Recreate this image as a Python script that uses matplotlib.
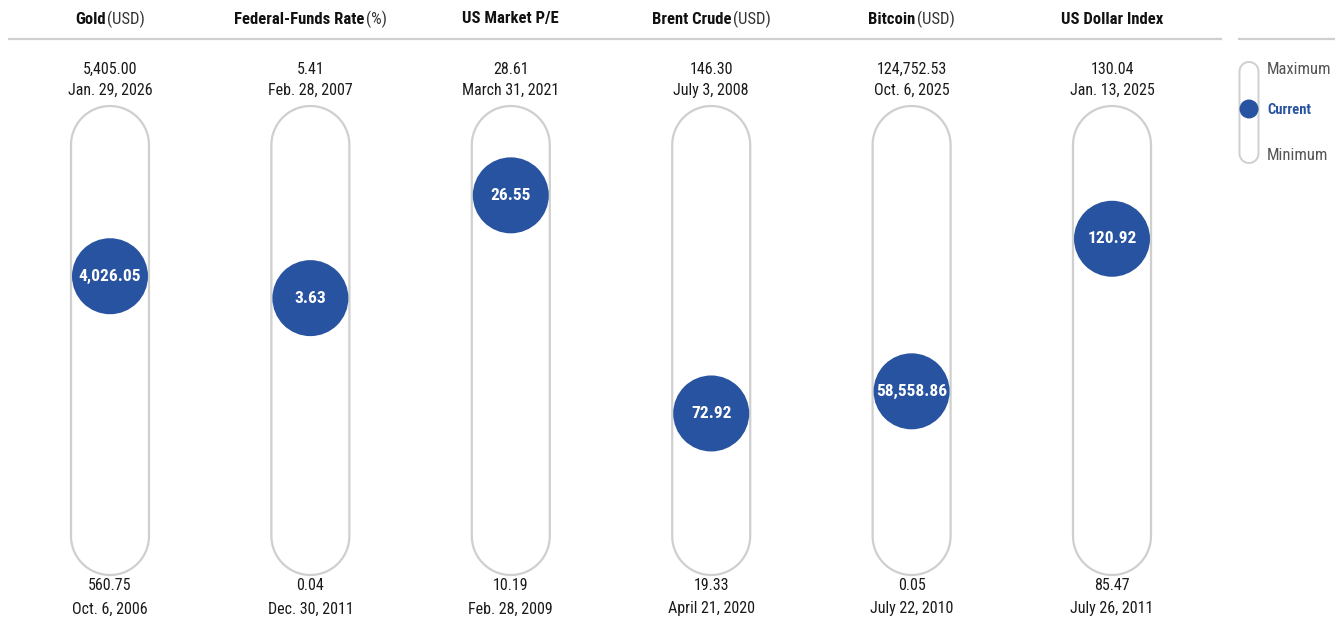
import matplotlib
matplotlib.use('Agg')
import numpy as np
import matplotlib.pyplot as plt
from matplotlib.patches import Circle, PathPatch
from matplotlib.path import Path

# data
names = ['Gold', 'Federal-Funds Rate', 'US Market P/E', 'Brent Crude', 'Bitcoin', 'US Dollar Index']
units = ['(USD)', '(%)', '', '(USD)', '(USD)', '']
max_vals = [5405.00, 5.41, 28.61, 146.30, 124752.53, 130.04]
max_dates = ['Jan. 29, 2026', 'Feb. 28, 2007', 'March 31, 2021', 'July 3, 2008', 'Oct. 6, 2025', 'Jan. 13, 2025']
min_vals = [560.75, 0.04, 10.19, 19.33, 0.05, 85.47]
min_dates = ['Oct. 6, 2006', 'Dec. 30, 2011', 'Feb. 28, 2009', 'April 21, 2020', 'July 22, 2010', 'July 26, 2011']
cur_vals = [4026.05, 3.63, 26.55, 72.92, 58558.86, 120.92]

W, H = 1342, 631
fig = plt.figure(figsize=(W / 100, H / 100), dpi=100)
ax = fig.add_axes([0, 0, 1, 1])
ax.set_xlim(0, W)
ax.set_ylim(H, 0)
ax.axis('off')

font = ['Liberation Sans Narrow', 'Roboto Condensed', 'DejaVu Sans']
st = 'condensed'
blue = '#2853a0'
grey = '#cfcfcf'
txt = '#1a1a1a'

x0, dx = 110, 200.4
pill_w, pill_top, pill_bot = 78, 106, 575
y_lo, y_hi = 611, 143  # where min / max land
r = 38

def pill(cx, top, bot, w, lw):
    rr = w / 2
    a = np.linspace(np.pi, 2 * np.pi, 40)
    top_arc = np.c_[cx + rr * np.cos(a), top + rr + rr * np.sin(a)]
    a2 = np.linspace(0, np.pi, 40)
    bot_arc = np.c_[cx + rr * np.cos(a2), bot - rr + rr * np.sin(a2)]
    verts = np.vstack([top_arc, bot_arc, top_arc[:1]])
    codes = [Path.MOVETO] + [Path.LINETO] * (len(verts) - 2) + [Path.CLOSEPOLY]
    ax.add_patch(PathPatch(Path(verts, codes), fc='white', ec=grey, lw=lw))

# header lines
ax.plot([8, 1222], [39, 39], color=grey, lw=1.6, solid_capstyle='butt')
ax.plot([1238, 1335], [39, 39], color=grey, lw=1.6, solid_capstyle='butt')

fig.canvas.draw()
renderer = fig.canvas.get_renderer()

def fmt(v):
    return f'{v:,.2f}'

for i, name in enumerate(names):
    cx = x0 + i * dx
    # title with bold name + regular unit
    t1 = ax.text(0, 19, name, fontsize=12, fontweight='bold', family=font, stretch=st, va='center', ha='left', color='#111111')
    w1 = t1.get_window_extent(renderer).width
    w2 = 0
    t2 = None
    if units[i]:
        t2 = ax.text(0, 19, units[i], fontsize=12, family=font, stretch=st, va='center', ha='left', color='#333333')
        w2 = t2.get_window_extent(renderer).width + 2
    start = cx - (w1 + w2) / 2
    t1.set_x(start)
    if t2 is not None:
        t2.set_x(start + w1 + 2)

    ax.text(cx, 69, fmt(max_vals[i]), fontsize=11.5, family=font, stretch=st, ha='center', va='center', color=txt)
    ax.text(cx, 90, max_dates[i], fontsize=11.5, family=font, stretch=st, ha='center', va='center', color=txt)
    ax.text(cx, 586, fmt(min_vals[i]), fontsize=11.5, family=font, stretch=st, ha='center', va='center', color=txt)
    ax.text(cx, 609, min_dates[i], fontsize=11.5, family=font, stretch=st, ha='center', va='center', color=txt)

    pill(cx, pill_top, pill_bot, pill_w, 1.6)

    f = (cur_vals[i] - min_vals[i]) / (max_vals[i] - min_vals[i])
    cy = y_lo + (y_hi - y_lo) * f
    ax.add_patch(Circle((cx, cy), r, fc=blue, ec='none', zorder=3))
    ax.text(cx, cy, fmt(cur_vals[i]), fontsize=12.5, fontweight='bold', family=font, stretch=st,
            ha='center', va='center', color='white', zorder=4)

# legend
lx = 1249
pill(lx, 62, 163, 19, 1.4)
ax.add_patch(Circle((lx, 109), 9.5, fc=blue, ec='none', zorder=3))
ax.text(1267, 70, 'Maximum', fontsize=12, family=font, stretch=st, ha='left', va='center', color='#555555')
ax.text(1267, 110, 'Current', fontsize=10.5, fontweight='bold', family=font, stretch=st, ha='left', va='center', color=blue)
ax.text(1267, 156, 'Minimum', fontsize=12, family=font, stretch=st, ha='left', va='center', color='#555555')

fig.savefig('out.png', dpi=100)
